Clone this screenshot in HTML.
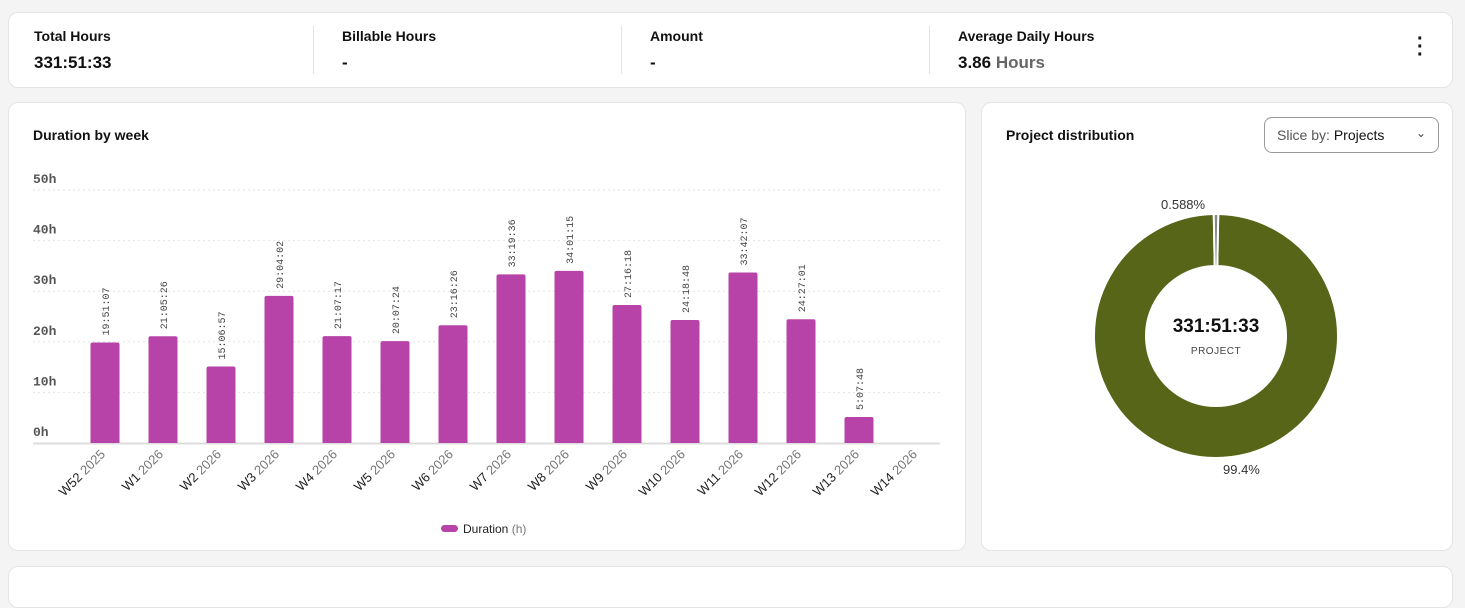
<!DOCTYPE html>
<html><head><meta charset="utf-8">
<style>
body{margin:0;width:1465px;height:572px;background:#f4f4f4;font-family:"Liberation Sans",sans-serif;overflow:hidden;position:relative}
.card{position:absolute;background:#fff;border:1px solid #e4e4e4;border-radius:10px}
.stat{position:absolute;top:0;height:75px;white-space:nowrap;width:260px}
.stat .l{position:absolute;top:15px;font-size:14px;font-weight:bold;color:#111;white-space:nowrap}
.stat .v{position:absolute;top:40px;font-size:17px;font-weight:bold;color:#111;white-space:nowrap}
.sep{position:absolute;top:13px;width:1px;height:48px;background:#e4e4e4}
</style></head><body>
<div class="card" style="left:8px;top:12px;width:1443px;height:74px">
 <div class="stat" style="left:25px"><div class="l">Total Hours</div><div class="v">331:51:33</div></div>
 <div class="sep" style="left:304px"></div>
 <div class="stat" style="left:333px"><div class="l">Billable Hours</div><div class="v">-</div></div>
 <div class="sep" style="left:612px"></div>
 <div class="stat" style="left:641px"><div class="l">Amount</div><div class="v">-</div></div>
 <div class="sep" style="left:920px"></div>
 <div class="stat" style="left:949px"><div class="l">Average Daily Hours</div><div class="v">3.86 <span style="color:#666">Hours</span></div></div>
 <div style="position:absolute;left:1408px;top:22px;font-size:20px;font-weight:bold;line-height:8px;color:#111">·<br>·<br>·</div>
</div>
<div class="card" style="left:8px;top:102px;width:956px;height:447px"></div>
<div class="card" style="left:981px;top:102px;width:470px;height:447px"></div>
<div class="card" style="left:8px;top:566px;width:1443px;height:40px"></div>
<div style="position:absolute;left:33px;top:127px;font-size:14px;font-weight:bold;color:#111">Duration by week</div>
<div style="position:absolute;left:1006px;top:127px;font-size:14px;font-weight:bold;color:#111">Project distribution</div>
<div style="position:absolute;left:1264px;top:117px;width:175px;height:36px;border:1px solid #999;border-radius:8px;box-sizing:border-box;font-size:14px;line-height:34px;padding-left:12px;color:#555">Slice by: <span style="color:#111">Projects</span><span style="position:absolute;right:12px;top:-2px;font-size:12px;color:#444">&#8964;</span></div>
<svg id="chart" width="1465" height="572" style="position:absolute;left:0;top:0"></svg>
<script>
const categories=["W52 2025","W1 2026","W2 2026","W3 2026","W4 2026","W5 2026","W6 2026","W7 2026","W8 2026","W9 2026","W10 2026","W11 2026","W12 2026","W13 2026","W14 2026"];
const durations=[19.852,21.091,15.116,29.067,21.121,20.123,23.274,33.327,34.021,27.272,24.313,33.702,24.450,5.130,0];
const valueLabels=["19:51:07","21:05:26","15:06:57","29:04:02","21:07:17","20:07:24","23:16:26","33:19:36","34:01:15","27:16:18","24:18:48","33:42:07","24:27:01","5:07:48",""];
const yTicks=[0,10,20,30,40,50];
const sliceNames=["Project A","Project B"];
const sliceValues=[99.412,0.588];
const sliceLabels=["99.4%","0.588%"];
const NS="http://www.w3.org/2000/svg";
const svg=document.getElementById('chart');
function mk(t,a,p){const e=document.createElementNS(NS,t);for(const k in a)e.setAttribute(k,a[k]);(p||svg).appendChild(e);return e;}
const y0=443,yTop=190,yMax=50;
const y=v=>y0-(y0-yTop)*v/yMax;
const band=58,xStart=76;
const xc=i=>xStart+band*i+band/2;
yTicks.forEach(t=>{
 if(t>0){const g=mk('line',{x1:33,x2:940,y1:y(t),y2:y(t),stroke:'#e2e2e2','stroke-dasharray':'2,3'});
 
 }
 const tx=mk('text',{x:33,y:y(t)-7,'font-family':'Liberation Mono,monospace','font-size':13,'font-weight':'bold',fill:'#555'});
 tx.textContent=t+'h';
 
 
});
const ax=mk('line',{x1:33,x2:940,y1:y0+0.5,y2:y0+0.5,stroke:'#ddd','stroke-width':2});


categories.forEach((c,i)=>{
 const v=durations[i],cx=xc(i);
 if(v>0){
  const b=mk('path',{d:`M${cx-14.5},${y0} V${y(v)+2} q0,-2 2,-2 h25 q2,0 2,2 V${y0} Z`,fill:'#b843a8'});
  
  
  const l=mk('text',{transform:`translate(${cx+4},${y(v)-7}) rotate(-90)`,'font-family':'Liberation Mono,monospace','font-size':10,fill:'#444'});
  l.textContent=valueLabels[i];
  
  
 }
 const parts=c.split(' ');
 const t=mk('text',{transform:`translate(${cx+1},${455}) rotate(-45)`,'text-anchor':'end','font-family':'Liberation Sans,sans-serif','font-size':13,fill:'#222'});
 t.innerHTML=`${parts[0]} <tspan fill="#777">${parts[1]}</tspan>`;
 
 
});
const lg=mk('rect',{x:441,y:525,width:17,height:7,rx:3.5,fill:'#b843a8'});


const lt=mk('text',{x:463,y:533,'font-size':12,fill:'#222'});
lt.innerHTML='Duration <tspan fill="#777">(h)</tspan>';


const cx0=1216,cy0=336,R=122,r=70;
const total=sliceValues.reduce((a,b)=>a+b,0);
let ang=-Math.PI/2+(sliceValues[1]/total)*Math.PI*2/2;
const colors=['#566517','#888'];
sliceValues.forEach((v,i)=>{
 const a0=ang,a1=ang+v/total*Math.PI*2;ang=a1;
 const large=(a1-a0)>Math.PI?1:0;
 const p=(rad,a)=>[cx0+rad*Math.cos(a),cy0+rad*Math.sin(a)];
 const [x1,y1]=p(R,a0),[x2,y2]=p(R,a1),[x3,y3]=p(r,a1),[x4,y4]=p(r,a0);
 const s=mk('path',{d:`M${x1},${y1} A${R},${R} 0 ${large} 1 ${x2},${y2} L${x3},${y3} A${r},${r} 0 ${large} 0 ${x4},${y4} Z`,fill:colors[i],stroke:'#fff','stroke-width':2});
 
 
});
const pl1=mk('text',{x:1161,y:209,'font-size':13,fill:'#333'});pl1.textContent=sliceLabels[1];


const pl2=mk('text',{x:1223,y:474,'font-size':13,fill:'#333'});pl2.textContent=sliceLabels[0];


const ct=mk('text',{x:cx0,y:332,'text-anchor':'middle','font-size':19,'font-weight':'bold',fill:'#111'});ct.textContent='331:51:33';


const cl=mk('text',{x:cx0,y:354,'text-anchor':'middle','font-size':10,fill:'#444','letter-spacing':'0.5'});cl.textContent='PROJECT';


</script>
</body></html>
